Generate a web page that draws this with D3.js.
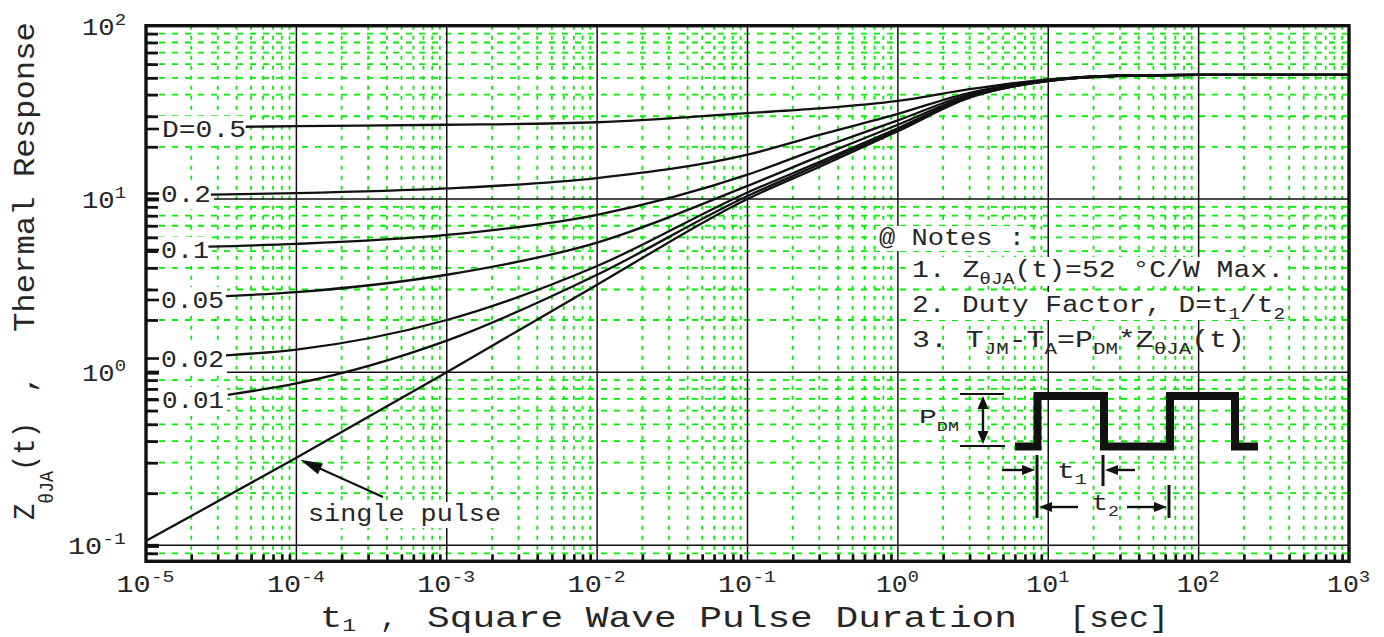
<!DOCTYPE html>
<html><head><meta charset="utf-8">
<script src="https://cdn.jsdelivr.net/npm/d3@7"></script>
<style>
html,body{margin:0;padding:0;background:#fff;}
svg{display:block;}
text{font-family:"Liberation Mono","DejaVu Sans Mono",monospace;fill:#262626;}
</style></head><body>
<svg id="chart" width="1384" height="637"></svg>
<script>
// ---------------- data ----------------
const timePoints = [1e-4, 1e-3, 1e-2, 1e-1, 3e-1, 1, 3, 10, 30, 100, 1000];
const seriesLabels = ["D=0.5", "0.2", "0.1", "0.05", "0.02", "0.01", "single pulse"];
const startTimes  = [4.6e-5, 2.7e-5, 2.6e-5, 3.4e-5, 3.4e-5, 3.5e-5, 1e-5];
const startValues = [26.1, 10.6, 5.3, 2.75, 1.25, 0.74, 0.106];
const zD05    = [26.3, 26.8, 27.7, 31.3, 33.3, 36.8, 43.0, 49.0, 51.5, 52, 52];
const zD02    = [10.8, 11.5, 13.2, 18.0, 23.4, 31.0, 41.0, 48.6, 51.5, 52, 52];
const zD01    = [5.5, 6.2, 8.1, 13.8, 19.6, 28.4, 40.2, 48.4, 51.4, 52, 52];
const zD005   = [2.9, 3.65, 5.6, 11.9, 17.6, 26.8, 39.5, 48.2, 51.4, 52, 52];
const zD002   = [1.35, 2.0, 4.1, 10.9, 16.3, 25.6, 39.0, 48.1, 51.4, 52, 52];
const zD001   = [0.86, 1.52, 3.65, 10.4, 15.8, 25.1, 38.7, 48.0, 51.4, 52, 52];
const zSingle = [0.32, 1.0, 3.2, 10.0, 15.3, 24.6, 38.4, 47.9, 51.4, 52, 52];
const xTickExps = [-5, -4, -3, -2, -1, 0, 1, 2, 3];
const yTickExps = [-1, 0, 1, 2];
const arrowTime = 1e-4;

// ---------------- layout ----------------
const X0 = 146, X1 = 1349, Y0 = 561.3, Y1 = 25.7;
const GREEN = "#00f000";
const svg = d3.select("#chart");
svg.append("rect").attr("width", 1384).attr("height", 637).attr("fill", "#fff");

const x = d3.scaleLog().domain([1e-5, 1e3]).range([X0, X1]);
const y = d3.scaleLog().domain([Math.pow(10, -1.092), 100]).range([Y0, Y1]);

const xMinor = [], yMinor = [];
for (let e = -5; e < 3; e++) for (let m = 2; m <= 9; m++) xMinor.push(m * Math.pow(10, e));
for (let e = -2; e < 2; e++) for (let m = 2; m <= 9; m++) {
  const v = m * Math.pow(10, e); if (v > y.domain()[0]) yMinor.push(v);
}
const xMajor = xTickExps.map(e => Math.pow(10, e));
const yMajor = yTickExps.map(e => Math.pow(10, e));

// ---------------- helpers ----------------
function rich(parent, x0, y0, parts, size, len, anchor) {
  const t = parent.append("text").attr("x", x0).attr("y", y0).attr("font-size", size);
  if (anchor) t.attr("text-anchor", anchor);
  if (len) t.attr("textLength", len).attr("lengthAdjust", "spacingAndGlyphs");
  let cur = 0;
  parts.forEach(p => {
    const k = p[1];
    const off = p[2] !== undefined ? p[2] : (k === "sub" ? size * 0.3 : k === "sup" ? -size * 0.43 : 0);
    t.append("tspan").attr("dy", off - cur).attr("font-size", k === "n" ? size : (p[3] || size * 0.68)).text(p[0]);
    cur = off;
  });
  return t;
}
function arrowHead(g, tx, ty, fx, fy, len, half) {
  const a = Math.atan2(ty - fy, tx - fx);
  const bx = tx - len * Math.cos(a), by = ty - len * Math.sin(a);
  const px = -Math.sin(a) * half, py = Math.cos(a) * half;
  g.append("polygon").attr("points", `${tx},${ty} ${bx + px},${by + py} ${bx - px},${by - py}`).attr("fill", "#111");
}

// ---------------- grid ----------------
const grid = svg.append("g");
grid.selectAll("line.hmin").data(yMinor).join("line").attr("class", "hmin")
  .attr("x1", X0).attr("x2", X1).attr("y1", d => y(d)).attr("y2", d => y(d))
  .attr("stroke", GREEN).attr("stroke-width", 1.8).attr("stroke-dasharray", "6,7");
grid.selectAll("line.vmin").data(xMinor).join("line").attr("class", "vmin")
  .attr("y1", Y1).attr("y2", Y0).attr("x1", d => x(d)).attr("x2", d => x(d))
  .attr("stroke", GREEN).attr("stroke-width", 1.8).attr("stroke-dasharray", "4,6");
grid.selectAll("line.hmaj").data(yMajor.slice(0, 3)).join("line").attr("class", "hmaj")
  .attr("x1", X0).attr("x2", X1).attr("y1", d => y(d)).attr("y2", d => y(d))
  .attr("stroke", "#111").attr("stroke-width", 1.5);
grid.selectAll("line.vmaj").data(xMajor.slice(1, -1)).join("line").attr("class", "vmaj")
  .attr("y1", Y1).attr("y2", Y0).attr("x1", d => x(d)).attr("x2", d => x(d))
  .attr("stroke", "#111").attr("stroke-width", 1.5);

// ---------------- white boxes behind labels / notes ----------------
const labelPos = [
  {x: 162, b: 137, w: 84}, {x: 161, b: 201.5, w: 50}, {x: 161, b: 258, w: 48},
  {x: 161, b: 308, w: 63}, {x: 161, b: 366.5, w: 63}, {x: 162, b: 408, w: 62}
];
const bg = svg.append("g");
labelPos.forEach(p => bg.append("rect").attr("x", p.x - 4).attr("y", p.b - 21).attr("width", p.w + 7).attr("height", 28.5).attr("fill", "#fff"));
bg.append("rect").attr("x", 876).attr("y", 226).attr("width", 150).attr("height", 25).attr("fill", "#fff");
bg.append("rect").attr("x", 908).attr("y", 257).attr("width", 380).attr("height", 29).attr("fill", "#fff");
bg.append("rect").attr("x", 908).attr("y", 292).attr("width", 380).attr("height", 28).attr("fill", "#fff");
bg.append("rect").attr("x", 304).attr("y", 502).attr("width", 200).attr("height", 26).attr("fill", "#fff");

// ---------------- curves ----------------
const allSeries = [zD05, zD02, zD01, zD005, zD002, zD001, zSingle];
const lineGen = d3.line().x(d => x(d[0])).y(d => y(d[1])).curve(d3.curveMonotoneX);
allSeries.forEach((vals, i) => {
  const pts = [[startTimes[i], startValues[i]]].concat(timePoints.map((t, j) => [t, vals[j]]));
  svg.append("path").attr("d", lineGen(pts)).attr("fill", "none")
    .attr("stroke", "#111").attr("stroke-width", 2.3);
});

// ---------------- curve labels ----------------
const lab = svg.append("g");
seriesLabels.slice(0, 6).forEach((s, i) => {
  const p = labelPos[i];
  lab.append("text").attr("x", p.x).attr("y", p.b).attr("font-size", 24)
    .attr("textLength", p.w).attr("lengthAdjust", "spacingAndGlyphs").text(s);
  lab.append("line").attr("x1", X0).attr("x2", X0 + 13).attr("y1", p.b - 8).attr("y2", p.b - 8)
    .attr("stroke", "#111").attr("stroke-width", 2.6);
});

// ---------------- axes ----------------
const axG = svg.append("g");
axG.append("g").attr("transform", `translate(0,${Y0})`)
  .call(d3.axisBottom(x).tickValues(xMinor).tickSize(-7).tickFormat(""))
  .call(g => g.select(".domain").remove())
  .selectAll("line").attr("stroke", "#111").attr("stroke-width", 2.6);
axG.append("g").attr("transform", `translate(${X0},0)`)
  .call(d3.axisLeft(y).tickValues(yMinor).tickSize(-12).tickFormat(""))
  .call(g => g.select(".domain").remove())
  .selectAll("line").attr("stroke", "#111").attr("stroke-width", 2.8);
axG.append("g").attr("transform", `translate(${X0},0)`)
  .call(d3.axisLeft(y).tickValues(yMajor.slice(0, 3)).tickSize(-13).tickFormat(""))
  .call(g => g.select(".domain").remove())
  .selectAll("line").attr("stroke", "#111").attr("stroke-width", 4);
axG.append("rect").attr("x", X0).attr("y", Y1).attr("width", X1 - X0).attr("height", Y0 - Y1)
  .attr("fill", "none").attr("stroke", "#111").attr("stroke-width", 3.4);

// tick labels (bottom)
const xl = axG.append("g").attr("transform", `translate(0,${Y0})`)
  .call(d3.axisBottom(x).tickValues(xMajor).tickSize(0).tickFormat(""));
xl.select(".domain").remove();
xl.selectAll(".tick text").remove();
xl.selectAll(".tick").each(function (d, i) {
  const e = xTickExps[i];
  rich(d3.select(this), -1, 31, [["10", "n"], [String(e), "sup", -10, 16]], 23, e < 0 ? 58 : 43, "middle");
});
// tick labels (left)
const yl = axG.append("g").attr("transform", `translate(${X0},0)`)
  .call(d3.axisLeft(y).tickValues(yMajor).tickSize(0).tickFormat(""));
yl.select(".domain").remove();
yl.selectAll(".tick text").remove();
yl.selectAll(".tick").each(function (d, i) {
  const e = yTickExps[i];
  rich(d3.select(this), -20, 8.5, [["10", "n"], [String(e), "sup", -10, 16]], 23, e < 0 ? 58 : 44, "end");
});

// ---------------- axis titles ----------------
rich(svg, 320, 627, [["t", "n"], ["1", "sub", 4, 18]], 29, 36);
svg.append("text").attr("x", 380).attr("y", 627).attr("font-size", 29).text(",");
svg.append("text").attr("x", 427).attr("y", 627).attr("font-size", 29)
  .attr("textLength", 590).attr("lengthAdjust", "spacingAndGlyphs").text("Square Wave Pulse Duration");
svg.append("text").attr("x", 1069).attr("y", 627).attr("font-size", 29)
  .attr("textLength", 100).attr("lengthAdjust", "spacingAndGlyphs").text("[sec]");

const yt1 = svg.append("g").attr("transform", "translate(34,520) rotate(-90)");
rich(yt1, 0, 0, [["Z", "n"], ["θJA", "sub", 19, 20], ["(t)", "n"]], 30, 98);
svg.append("g").attr("transform", "translate(34,393) rotate(-90)")
  .append("text").attr("font-size", 30).text(",");
svg.append("g").attr("transform", "translate(34,332) rotate(-90)")
  .append("text").attr("font-size", 30).attr("textLength", 310)
  .attr("lengthAdjust", "spacingAndGlyphs").text("Thermal Response");

// ---------------- single pulse annotation ----------------
const ann = svg.append("g");
const tipX = x(arrowTime) + 4, tipY = y(zSingle[0]) + 2;
ann.append("line").attr("x1", 383).attr("y1", 497).attr("x2", tipX + 10).attr("y2", tipY + 4.5)
  .attr("stroke", "#111").attr("stroke-width", 2.2);
arrowHead(ann, tipX, tipY, 383, 497, 22, 6);
ann.append("text").attr("x", 308).attr("y", 521).attr("font-size", 23)
  .attr("textLength", 193).attr("lengthAdjust", "spacingAndGlyphs").text(seriesLabels[6]);

// ---------------- notes ----------------
const notes = svg.append("g");
notes.append("text").attr("x", 879).attr("y", 245).attr("font-size", 23)
  .attr("textLength", 146).attr("lengthAdjust", "spacingAndGlyphs").text("@ Notes :");
rich(notes, 912, 277, [["1. Z", "n"], ["θJA", "sub", 7, 16], ["(t)=52 °C/W Max.", "n"]], 23, 372);
rich(notes, 912, 312, [["2. Duty Factor, D=t", "n"], ["1", "sub", 7, 16], ["/t", "n"], ["2", "sub", 7, 16]], 23, 373);
rich(notes, 912, 347, [["3. T", "n"], ["JM", "sub", 7, 16], ["-T", "n"], ["A", "sub", 7, 16], ["=P", "n"],
  ["DM", "sub", 7, 16], ["*Z", "n"], ["θJA", "sub", 7, 16], ["(t)", "n"]], 23, 333);

// ---------------- pulse diagram ----------------
const pd = svg.append("g");
pd.append("path").attr("d", "M1015,446.5 H1037.5 V396 H1104 V446.5 H1170 V396 H1235 V446.5 H1258")
  .attr("fill", "none").attr("stroke", "#111").attr("stroke-width", 8).attr("stroke-linejoin", "miter");
pd.append("line").attr("x1", 960).attr("x2", 1004).attr("y1", 394).attr("y2", 394).attr("stroke", "#111").attr("stroke-width", 2.2);
pd.append("line").attr("x1", 960).attr("x2", 1005).attr("y1", 446).attr("y2", 446).attr("stroke", "#111").attr("stroke-width", 2.2);
pd.append("line").attr("x1", 983).attr("x2", 983).attr("y1", 405).attr("y2", 435).attr("stroke", "#111").attr("stroke-width", 2.4);
arrowHead(pd, 983, 396, 983, 420, 13, 5.5);
arrowHead(pd, 983, 444, 983, 420, 13, 5.5);
rich(pd, 919, 423, [["P", "n"], ["DM", "sub", 8, 13]], 21, 40);
// t1
pd.append("line").attr("x1", 1037).attr("x2", 1037).attr("y1", 455).attr("y2", 518).attr("stroke", "#111").attr("stroke-width", 3);
pd.append("line").attr("x1", 1103).attr("x2", 1103).attr("y1", 455).attr("y2", 486).attr("stroke", "#111").attr("stroke-width", 3);
pd.append("line").attr("x1", 1002).attr("x2", 1024).attr("y1", 470).attr("y2", 470).attr("stroke", "#111").attr("stroke-width", 2.4);
arrowHead(pd, 1035, 470, 1002, 470, 13, 5);
pd.append("line").attr("x1", 1135).attr("x2", 1115).attr("y1", 470).attr("y2", 470).attr("stroke", "#111").attr("stroke-width", 2.4);
arrowHead(pd, 1105, 470, 1135, 470, 13, 5);
rich(pd, 1057, 478, [["t", "n"], ["1", "sub", 6, 15]], 22, 30);
// t2
pd.append("line").attr("x1", 1169).attr("x2", 1169).attr("y1", 485).attr("y2", 518).attr("stroke", "#111").attr("stroke-width", 3);
pd.append("line").attr("x1", 1050).attr("x2", 1078).attr("y1", 507).attr("y2", 507).attr("stroke", "#111").attr("stroke-width", 2.4);
arrowHead(pd, 1039, 507, 1078, 507, 13, 5);
pd.append("line").attr("x1", 1127).attr("x2", 1156).attr("y1", 507).attr("y2", 507).attr("stroke", "#111").attr("stroke-width", 2.4);
arrowHead(pd, 1167, 507, 1127, 507, 13, 5);
rich(pd, 1092, 510, [["t", "n"], ["2", "sub", 6, 15]], 22, 27);
</script>
</body></html>
